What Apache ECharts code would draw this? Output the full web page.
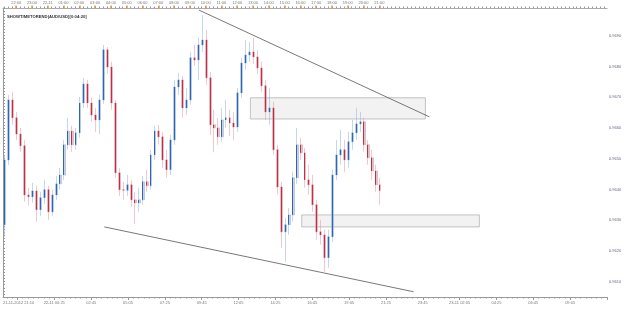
<!DOCTYPE html>
<html>
<head>
<meta charset="utf-8">
<script src="https://cdn.jsdelivr.net/npm/echarts@6/dist/echarts.min.js"></script>
<style>
  html, body { margin: 0; padding: 0; background: #fff; }
  #chart { width: 625px; height: 313px; }
</style>
</head>
<body>
<div id="chart"></div>
<script>
// AUD/USD 15 minute bars, from 21-11-2012 21:10
const opens = [
  0.96285, 0.96496, 0.96691, 0.96633, 0.96580, 0.96542, 0.96382, 0.96376, 0.96395, 0.96334,
  0.96373, 0.96399, 0.96327, 0.96382, 0.96418, 0.96447, 0.96545, 0.96590, 0.96545, 0.96584,
  0.96681, 0.96743, 0.96681, 0.96642, 0.96626, 0.96691, 0.96854, 0.96798, 0.96681, 0.96454,
  0.96399, 0.96397, 0.96415, 0.96366, 0.96356, 0.96366, 0.96425, 0.96412, 0.96512, 0.96590,
  0.96571, 0.96496, 0.96464, 0.96561, 0.96733, 0.96756, 0.96665, 0.96691, 0.96828, 0.96821,
  0.96870, 0.96886, 0.96763, 0.96610, 0.96600, 0.96571, 0.96626, 0.96633, 0.96616, 0.96603,
  0.96714, 0.96811, 0.96837, 0.96847, 0.96831, 0.96795, 0.96737, 0.96652, 0.96665, 0.96529,
  0.96408, 0.96262, 0.96285, 0.96317, 0.96438, 0.96545, 0.96519, 0.96431, 0.96415, 0.96350,
  0.96262, 0.96252, 0.96178, 0.96246, 0.96447, 0.96512, 0.96529, 0.96496, 0.96555, 0.96584,
  0.96613, 0.96620, 0.96545, 0.96503, 0.96460, 0.96415
];
const closes = [
  0.96496, 0.96691, 0.96633, 0.96580, 0.96542, 0.96382, 0.96376, 0.96395, 0.96334, 0.96373,
  0.96399, 0.96327, 0.96382, 0.96418, 0.96447, 0.96545, 0.96590, 0.96545, 0.96584, 0.96681,
  0.96743, 0.96681, 0.96642, 0.96626, 0.96691, 0.96854, 0.96798, 0.96681, 0.96454, 0.96399,
  0.96397, 0.96415, 0.96366, 0.96356, 0.96366, 0.96425, 0.96412, 0.96512, 0.96590, 0.96571,
  0.96496, 0.96464, 0.96561, 0.96733, 0.96756, 0.96665, 0.96691, 0.96828, 0.96821, 0.96870,
  0.96886, 0.96763, 0.96610, 0.96600, 0.96571, 0.96626, 0.96633, 0.96616, 0.96603, 0.96714,
  0.96811, 0.96837, 0.96847, 0.96831, 0.96795, 0.96737, 0.96652, 0.96665, 0.96529, 0.96408,
  0.96262, 0.96285, 0.96317, 0.96438, 0.96545, 0.96519, 0.96431, 0.96415, 0.96350, 0.96262,
  0.96252, 0.96178, 0.96246, 0.96447, 0.96512, 0.96529, 0.96496, 0.96555, 0.96584, 0.96613,
  0.96620, 0.96545, 0.96503, 0.96460, 0.96415, 0.96396
];
const highs = [
  0.96512, 0.96707, 0.96717, 0.96652, 0.96600, 0.96561, 0.96405, 0.96421, 0.96412, 0.96392,
  0.96431, 0.96412, 0.96399, 0.96444, 0.96470, 0.96561, 0.96633, 0.96607, 0.96600, 0.96701,
  0.96763, 0.96756, 0.96698, 0.96665, 0.96707, 0.96870, 0.96863, 0.96815, 0.96691, 0.96470,
  0.96425, 0.96447, 0.96431, 0.96392, 0.96405, 0.96444, 0.96464, 0.96529, 0.96607, 0.96610,
  0.96587, 0.96529, 0.96577, 0.96756, 0.96779, 0.96769, 0.96730, 0.96847, 0.96870, 0.96893,
  0.96967, 0.96919, 0.96782, 0.96659, 0.96633, 0.96665, 0.96691, 0.96659, 0.96652, 0.96730,
  0.96828, 0.96886, 0.96880, 0.96893, 0.96854, 0.96815, 0.96756, 0.96730, 0.96685, 0.96545,
  0.96425, 0.96308, 0.96340, 0.96457, 0.96600, 0.96568, 0.96535, 0.96480, 0.96447, 0.96366,
  0.96301, 0.96269, 0.96269, 0.96464, 0.96561, 0.96594, 0.96561, 0.96587, 0.96626, 0.96665,
  0.96652, 0.96633, 0.96561, 0.96529, 0.96480, 0.96438
];
const lows = [
  0.96246, 0.96480, 0.96610, 0.96561, 0.96522, 0.96360, 0.96347, 0.96356, 0.96295, 0.96314,
  0.96353, 0.96301, 0.96314, 0.96366, 0.96399, 0.96431, 0.96529, 0.96522, 0.96529, 0.96568,
  0.96665, 0.96665, 0.96620, 0.96587, 0.96580, 0.96678, 0.96776, 0.96659, 0.96438, 0.96379,
  0.96366, 0.96379, 0.96343, 0.96288, 0.96327, 0.96350, 0.96392, 0.96399, 0.96496, 0.96545,
  0.96470, 0.96438, 0.96447, 0.96545, 0.96707, 0.96633, 0.96642, 0.96675, 0.96802, 0.96756,
  0.96847, 0.96740, 0.96577, 0.96522, 0.96545, 0.96555, 0.96600, 0.96574, 0.96561, 0.96587,
  0.96698, 0.96789, 0.96815, 0.96808, 0.96776, 0.96717, 0.96626, 0.96610, 0.96512, 0.96382,
  0.96210, 0.96165, 0.96252, 0.96295, 0.96418, 0.96496, 0.96405, 0.96382, 0.96327, 0.96236,
  0.96220, 0.96132, 0.96145, 0.96230, 0.96431, 0.96480, 0.96457, 0.96470, 0.96529, 0.96561,
  0.96587, 0.96522, 0.96480, 0.96431, 0.96392, 0.96350
];

// axis texts
const bottomLabels = ["21-11-2012 21:10", "22-11 00:25", "02:45", "05:05", "07:25", "09:45",
  "12:05", "14:25", "16:45", "19:05", "21:25", "23:45", "23-11 02:05", "04:25", "06:45", "09:05"];
const topLabels = ["22:00", "23:00", "22-11", "01:00", "02:00", "03:00", "04:00", "05:00",
  "06:00", "07:00", "08:00", "09:00", "10:00", "11:00", "12:00", "13:00", "14:00", "15:00",
  "16:00", "17:00", "18:00", "19:00", "20:00", "21:00"];
const chartTitle = "SHOWTIMETOREND(AUD/USD)[0:04:20]";

// drawn objects: trend lines and zones (time, price)
const trendLines = [
  [["22-11 09:35", 0.96983], ["23-11 00:10", 0.96636]],
  [["22-11 03:35", 0.96278], ["22-11 23:10", 0.96067]]
];
const zones = [
  [["22-11 12:50", 0.96698], ["22-11 23:55", 0.96629]],
  [["22-11 16:05", 0.96317], ["23-11 03:20", 0.96278]]
];

const START = 21 * 60 + 10;      // 21-11 21:10
const SPAN = 2295;               // minutes shown on the x axis
const slotCount = SPAN / 15;     // 15 min bars
const rulerCount = SPAN / 5 + 1; // 5 min ruler points

function toMin(s) {
  const [d, t] = s.split(" ");
  const day = +d.split("-")[0];
  const [h, m] = t.split(":").map(Number);
  return (day - 21) * 1440 + h * 60 + m - START;
}
function clock(min) {
  const t = min + START;
  const d = 21 + Math.floor(t / 1440);
  const r = t % 1440;
  return d + "-11 " + String(Math.floor(r / 60)).padStart(2, "0") + ":" + String(r % 60).padStart(2, "0");
}

const slots = [];
for (let i = 0; i < slotCount; i++) slots.push(clock(i * 15));
const ruler = [];
for (let i = 0; i < rulerCount; i++) ruler.push(clock(i * 5));

// label index on the 5 min ruler
const bottomAt = {};
bottomLabels.forEach((s, k) => { bottomAt[k === 0 ? 0 : 39 + (k - 1) * 28] = s; });
const topAt = {};
topLabels.forEach((s, k) => { topAt[10 + k * 12] = s; });

const candleData = opens.map((o, i) => [o, closes[i], lows[i], highs[i]]);
const bodyData = opens.map((o, i) => [o, closes[i], Math.min(o, closes[i]), Math.max(o, closes[i])]);

const txt = { fontSize: 4, color: "#777", fontFamily: "Liberation Sans" };

const myChart = echarts.init(document.getElementById("chart"));
const option = {
  animation: false,
  backgroundColor: "#fff",
  title: {
    text: chartTitle, left: 2, top: 10,
    textStyle: { fontSize: 4.2, fontWeight: "bold", color: "#333", fontFamily: "Liberation Sans" }
  },
  grid: { left: 0, right: 18, top: 8, bottom: 16 },
  xAxis: [
    { type: "category", data: slots, boundaryGap: true, show: false },
    {
      type: "category", data: ruler, boundaryGap: false, position: "bottom",
      axisLine: { lineStyle: { color: "#999", width: 1 } },
      axisTick: { interval: i => i >= 11 && (i - 11) % 28 === 0, length: 3, lineStyle: { color: "#999" } },
      axisLabel: Object.assign({
        interval: i => bottomAt[i] !== undefined,
        formatter: (v, i) => bottomAt[i] || "",
        margin: 4, alignMinLabel: "left"
      }, txt),
      splitLine: { show: false }
    },
    {
      type: "category", data: ruler, boundaryGap: false, position: "bottom",
      axisLine: { show: false },
      axisTick: { interval: i => i % 4 === 3, length: 1.5, lineStyle: { color: "#999" } },
      axisLabel: { show: false }
    },
    {
      type: "category", data: ruler, boundaryGap: false, position: "top",
      axisLine: { lineStyle: { color: "#aaa", width: 1 } },
      axisTick: { interval: i => topAt[i] !== undefined, length: 2.5, lineStyle: { color: "#e3a21a", width: 1.5 } },
      axisLabel: Object.assign({
        interval: i => topAt[i] !== undefined,
        formatter: (v, i) => topAt[i] || "",
        margin: 3
      }, txt)
    },
    {
      type: "category", data: ruler, boundaryGap: false, position: "top",
      axisLine: { show: false },
      axisTick: { interval: i => i % 3 === 1, length: 1.5, lineStyle: { color: "#999" } },
      axisLabel: { show: false }
    },
    { type: "value", min: 0, max: SPAN, show: false }
  ],
  yAxis: {
    type: "value", position: "right", min: 0.9605, max: 0.9699, interval: 0.0001,
    axisLine: { show: true, lineStyle: { color: "#999" } },
    axisTick: { show: true, length: 2, lineStyle: { color: "#999" } },
    axisLabel: Object.assign({
      margin: 2,
      formatter: v => Math.round(v * 10000) % 10 === 0 ? v.toFixed(4) : ""
    }, txt, { color: "#668" }),
    splitLine: { show: false }
  },
  series: [
    {
      type: "line", xAxisIndex: 5, z: 1, symbol: "none", silent: true,
      data: trendLines[0].map(p => [toMin(p[0]), p[1]]),
      lineStyle: { color: "#555", width: 0.8 },
      markArea: {
        silent: true,
        itemStyle: { color: "#f2f2f2", borderColor: "#b5b5b5", borderWidth: 0.8 },
        data: zones.map(z => [{ coord: [toMin(z[0][0]), z[0][1]] }, { coord: [toMin(z[1][0]), z[1][1]] }])
      }
    },
    {
      type: "line", xAxisIndex: 5, z: 1, symbol: "none", silent: true,
      data: trendLines[1].map(p => [toMin(p[0]), p[1]]),
      lineStyle: { color: "#555", width: 0.8 }
    },
    {
      // pale shadow and wick
      type: "candlestick", xAxisIndex: 0, z: 3, barWidth: 2.4, data: candleData,
      itemStyle: {
        color: "rgba(125,110,170,0.35)", color0: "rgba(150,80,120,0.35)",
        borderColor: "rgba(140,180,225,0.75)", borderColor0: "rgba(230,150,165,0.75)", borderWidth: 0.7
      }
    },
    {
      // solid open-close stroke
      type: "candlestick", xAxisIndex: 0, z: 4, barWidth: 0.4, data: bodyData,
      itemStyle: {
        color: "#1d5aa8", color0: "#b8222e", borderColor: "#1d5aa8", borderColor0: "#b8222e", borderWidth: 0.9
      },
      markLine: {
        silent: true, symbol: "none",
        lineStyle: { opacity: 0 },
        label: {
          position: "end", distance: 2, fontSize: 4, color: "#123", fontFamily: "Liberation Sans",
          backgroundColor: "#5cb0ec", padding: [1, 1],
          formatter: p => p.value.toFixed(4)
        },
        data: [{ yAxis: closes[closes.length - 1] }]
      }
    }
  ]
};
myChart.setOption(option);
</script>
</body>
</html>
